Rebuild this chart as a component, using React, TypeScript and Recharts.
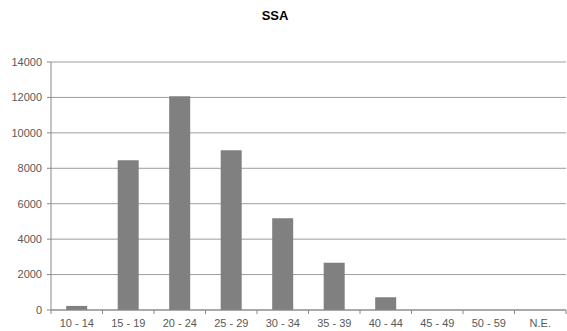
import React from "react";
import { BarChart, Bar, XAxis, YAxis, CartesianGrid } from "recharts";

const categories = ["10 - 14", "15 - 19", "20 - 24", "25 - 29", "30 - 34", "35 - 39", "40 - 44", "45 - 49", "50 - 59", "N.E."];
const values = [230, 8450, 12060, 9020, 5180, 2670, 720, 0, 0, 0];
const yTicks = [0, 2000, 4000, 6000, 8000, 10000, 12000, 14000];

const data = categories.map((c, i) => ({ name: c, value: values[i] }));

const W = 567;
const H = 331;
const LEFT = 51;
const RIGHT = 1;
const BAND = (W - LEFT - RIGHT) / categories.length;

const XTick = (props: any) => {
  const { x, y, payload, axisY } = props;
  const isLast = payload.index === categories.length - 1;
  return (
    <g>
      <line x1={x - BAND / 2} x2={x - BAND / 2} y1={axisY} y2={axisY + 4} stroke="#888" />
      {isLast && <line x1={x + BAND / 2} x2={x + BAND / 2} y1={axisY} y2={axisY + 4} stroke="#888" />}
      <text x={x} y={axisY + 16.5} textAnchor="middle" fill="#595959" fontSize={11} fontFamily="Liberation Sans, Arial, sans-serif">
        {payload.value}
      </text>
    </g>
  );
};

export default function App() {
  return (
    <div style={{ position: "absolute", left: 0, top: 0, width: W, height: H, background: "#fff" }}>
      <div
        style={{
          position: "absolute",
          left: 225,
          width: 100,
          top: 8,
          textAlign: "center",
          fontFamily: "Liberation Sans, Arial, sans-serif",
          fontWeight: "bold",
          fontSize: 13,
          color: "#000",
          lineHeight: "15px",
        }}
      >
        SSA
      </div>
      <BarChart
        width={W}
        height={H}
        data={data}
        margin={{ top: 62, right: RIGHT, bottom: 0, left: 0 }}
        barCategoryGap="29.5%"
      >
        <CartesianGrid vertical={false} stroke="#9c9c9c" />
        <XAxis
          dataKey="name"
          interval={0}
          tickLine={false}
          axisLine={{ stroke: "#888" }}
          tick={<XTick axisY={H - 21} />}
          height={21}
        />
        <YAxis
          width={LEFT}
          domain={[0, 14000]}
          ticks={yTicks}
          interval={0}
          tickSize={4}
          tickMargin={5}
          tickLine={{ stroke: "#888" }}
          axisLine={{ stroke: "#888" }}
          tick={{ fill: "#595959", fontSize: 11, fontFamily: "Liberation Sans, Arial, sans-serif" }}
        />
        <Bar dataKey="value" fill="#808080" isAnimationActive={false} />
      </BarChart>
    </div>
  );
}
